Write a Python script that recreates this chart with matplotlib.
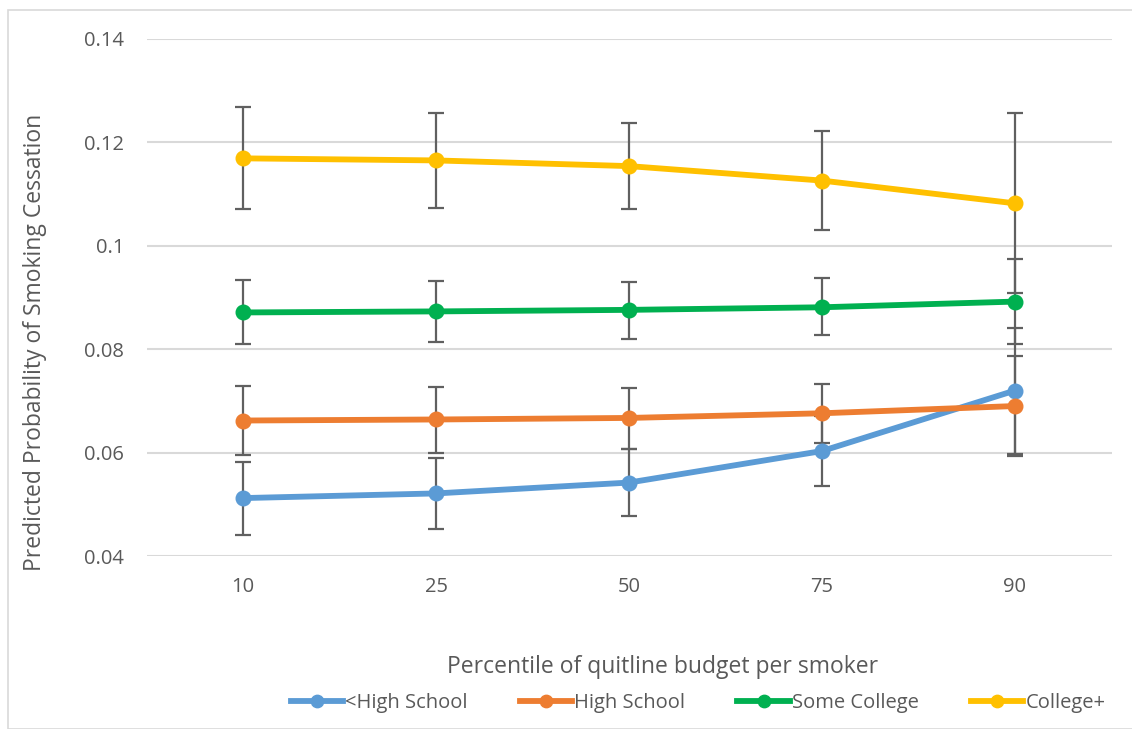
import numpy as np
import matplotlib.pyplot as plt
import matplotlib as mpl
from matplotlib.patches import Rectangle

mpl.rc('font', family=['Open Sans', 'DejaVu Sans'])

percentiles = ['10', '25', '50', '75', '90']
groups = ['<High School', 'High School', 'Some College', 'College+']
colors = ['#5b9bd5', '#ed7d31', '#00b050', '#ffc000']

# predicted probability and the low/high ends of each error bar
prob_less_hs = [0.0512, 0.0521, 0.0542, 0.0603, 0.0720]
low_less_hs = [0.0440, 0.0452, 0.0477, 0.0535, 0.0597]
high_less_hs = [0.0582, 0.0589, 0.0607, 0.0671, 0.0841]

prob_hs = [0.0662, 0.0664, 0.0667, 0.0676, 0.0690]
low_hs = [0.0596, 0.0600, 0.0607, 0.0618, 0.0594]
high_hs = [0.0728, 0.0727, 0.0725, 0.0733, 0.0787]

prob_some_col = [0.0871, 0.0873, 0.0876, 0.0881, 0.0892]
low_some_col = [0.0810, 0.0813, 0.0819, 0.0828, 0.0810]
high_some_col = [0.0934, 0.0932, 0.0930, 0.0938, 0.0974]

prob_col = [0.1169, 0.1165, 0.1154, 0.1126, 0.1082]
low_col = [0.1072, 0.1073, 0.1071, 0.1030, 0.0908]
high_col = [0.1268, 0.1256, 0.1237, 0.1221, 0.1257]

probs = [prob_less_hs, prob_hs, prob_some_col, prob_col]
lows = [low_less_hs, low_hs, low_some_col, low_col]
highs = [high_less_hs, high_hs, high_some_col, high_col]

txt = '#595959'
fig = plt.figure(figsize=(11.32, 7.29), dpi=100)
fig.patches.append(Rectangle((8/1132, 0), 1.0, 1 - 10/729, transform=fig.transFigure,
                             fill=False, edgecolor='#d9d9d9', linewidth=1.2))
ax = fig.add_axes([146.5/1132, 173/729, 965/1132, 517.1/729])

x = np.arange(len(percentiles))
for name, c, p, lo, hi in zip(groups, colors, probs, lows, highs):
    p = np.array(p)
    err = [p - np.array(lo), np.array(hi) - p]
    ax.errorbar(x, p, yerr=err, fmt='none', ecolor='#606060', elinewidth=1.6,
                capsize=6, capthick=1.6, zorder=2)
for name, c, p in zip(groups, colors, probs):
    ax.plot(x, p, color=c, lw=4.2, marker='o', ms=10.5, label=name, zorder=3)

ax.set_xlim(-0.5, len(percentiles) - 0.5)
ax.set_ylim(0.04, 0.14)
ax.set_yticks([0.04, 0.06, 0.08, 0.1, 0.12, 0.14])
ax.set_yticklabels(['0.04', '0.06', '0.08', '0.1', '0.12', '0.14'])
ax.set_xticks(x)
ax.set_xticklabels(percentiles)
ax.tick_params(length=0, labelsize=14.5, labelcolor=txt)
ax.tick_params(axis='y', pad=16)
ax.tick_params(axis='x', pad=15)
ax.grid(axis='y', color='#d9d9d9', lw=1.5)
ax.set_axisbelow(True)
for s in ax.spines.values():
    s.set_visible(False)

fig.text(35/1132, 1 - 342/729, 'Predicted Probability of Smoking Cessation',
         rotation=90, ha='center', va='center', fontsize=16.5, color=txt)
fig.text(663/1132, 1 - 667/729, 'Percentile of quitline budget per smoker',
         ha='center', va='center', fontsize=16.5, color=txt)
leg = fig.legend(loc='center', bbox_to_anchor=(698/1132, 1 - 703/729), ncol=4,
                 frameon=False, fontsize=14.5, handlelength=2.6, columnspacing=2.6,
                 handletextpad=0.1, markerscale=0.85)
for t in leg.get_texts():
    t.set_color(txt)

fig.savefig('out.png', dpi=100)
